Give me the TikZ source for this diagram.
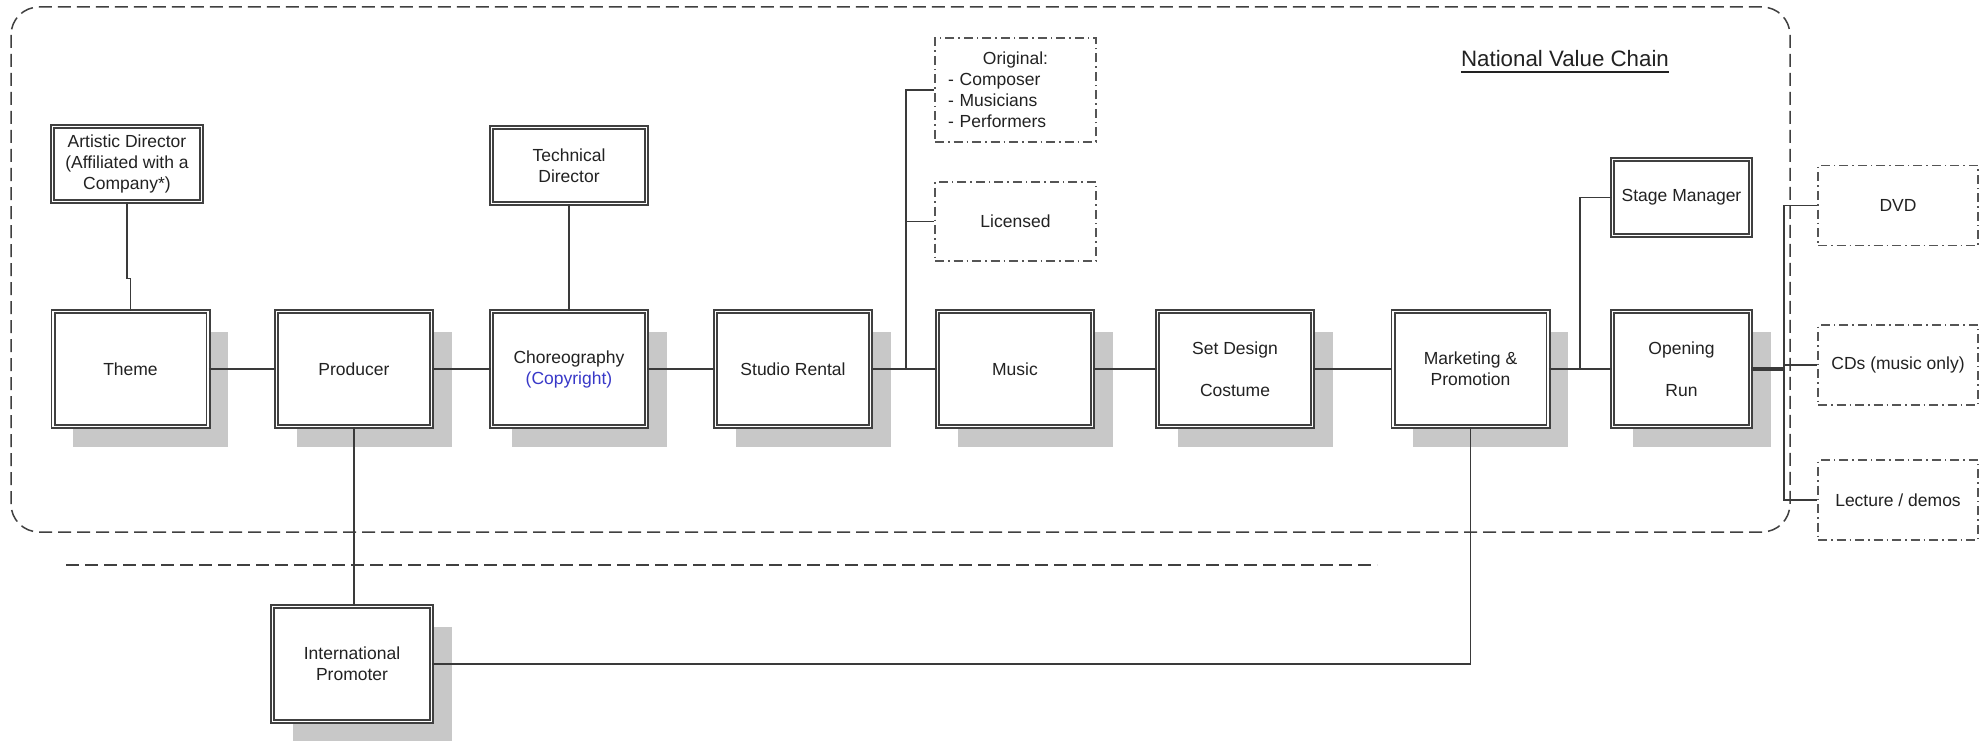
\documentclass[tikz,border=0pt]{standalone}
\usepackage{fontspec}
\setmainfont{Liberation Sans}
\usetikzlibrary{shadows}

\definecolor{linec}{HTML}{3A3A3A}
\definecolor{boxc}{HTML}{404040}
\definecolor{ddc}{HTML}{555555}
\definecolor{shadowc}{HTML}{C8C8C8}
\definecolor{txtc}{HTML}{222222}
\definecolor{copyc}{HTML}{3838C8}
\newcommand\boxfont{\fontsize{17.5pt}{21pt}\selectfont}

\begin{document}
\begin{tikzpicture}[x=1pt,y=-1pt,
  every node/.style={text=txtc, font=\boxfont, align=center, inner sep=0pt},
  dblbox/.style={draw=boxc, double=white, double distance=1.8pt, line width=1.6pt, fill=white},
  stagebox/.style={dblbox, minimum width=155pt, minimum height=115pt},
  shade/.style={drop shadow={shadow xshift=20pt, shadow yshift=-20pt, fill=shadowc, opacity=1}},
  ddbox/.style={draw=ddc, line width=1.5pt, dash pattern=on 9pt off 4pt on 1.5pt off 4pt,
                minimum width=161pt},
  conn/.style={draw=linec, line width=1.6pt},
  feed/.style={draw=linec, line width=2.4pt},
  heavy/.style={draw=linec, line width=3.2pt},
  border/.style={draw=boxc, line width=1.5pt, dash pattern=on 13pt off 6pt},
]
\fill[white] (0,0) rectangle (1984,741);
\useasboundingbox (0,0) rectangle (1984,741);

% national value chain frame and the national/international divider
\draw[border, rounded corners=28pt] (11,7) rectangle (1790,532);
\draw[border] (66,565) -- (1377,565);

\node[font=\fontsize{22.3pt}{26pt}\selectfont, anchor=base] (title) at (1565,67) {National Value Chain};
\draw[draw=txtc, line width=1.7pt] ([yshift=-5pt]title.base west) -- ([yshift=-5pt]title.base east);

% production stages
\node[stagebox, shade] (theme) at (130.5,369) {Theme};
\node[stagebox, shade] (producer) at (354,369) {Producer};
\node[stagebox, shade] (choreo) at (569,369) {Choreography\\\textcolor{copyc}{(Copyright)}};
\node[stagebox, shade] (studio) at (793,369) {Studio Rental};
\node[stagebox, shade] (music) at (1015,369) {Music};
\node[stagebox, shade] (setdesign) at (1235,369) {Set Design\\[21pt]Costume};
\node[stagebox, shade] (marketing) at (1470.5,369) {Marketing \&\\Promotion};
\node[stagebox, shade, minimum width=138pt] (opening) at (1681.5,369) {Opening\\[21pt]Run};
\node[stagebox, shade, minimum width=159pt] (intl) at (352,664) {International\\Promoter};

% people attached to stages
\node[dblbox, minimum width=149pt, minimum height=75pt] (artdir) at (127,164)
  {Artistic Director\\(Affiliated with a\\Company*)};
\node[dblbox, minimum width=155pt, minimum height=76pt] (techdir) at (569,165.5) {Technical\\Director};
\node[dblbox, minimum width=138pt, minimum height=76pt] (stagemgr) at (1681.5,197.5) {Stage Manager};

% music sources
\node[ddbox, minimum height=104pt, text width=135pt, align=left] (original) at (1015.5,90)
  {\makebox[\linewidth]{Original:}\\- Composer\\- Musicians\\- Performers};
\node[ddbox, minimum height=79pt] (licensed) at (1015.5,221.5) {Licensed};

% by-products
\node[ddbox, minimum width=160pt, minimum height=80pt] (dvd) at (1898,205.5) {DVD};
\node[ddbox, minimum width=160pt, minimum height=80pt] (cds) at (1898,365) {CDs (music only)};
\node[ddbox, minimum width=160pt, minimum height=80pt] (lecture) at (1898,500) {Lecture / demos};

% junctions
\coordinate (mj) at (906,369);
\coordinate (sj) at (1580,369);
\coordinate (oj) at (1784,369);

% chain
\draw[conn] (theme.east) -- (producer.west);
\draw[conn] (producer.east) -- (choreo.west);
\draw[conn] (choreo.east) -- (studio.west);
\draw[conn] (studio.east) -- (mj);
\draw[feed] (mj) -- (music.west);
\draw[conn] (mj) |- (original.west);
\draw[conn] (mj |- licensed.west) -- (licensed.west);
\draw[conn] (music.east) -- (setdesign.west);
\draw[conn] (setdesign.east) -- (marketing.west);
\draw[conn] (marketing.east) -- (sj);
\draw[feed] (sj) -- (opening.west);
\draw[conn] (sj) |- (stagemgr.west);
\draw[heavy] (opening.east) -- (oj);
\draw[conn] (dvd.west) -- (oj |- dvd.west) -- (oj |- lecture.west) -- (lecture.west);
\draw[conn] (oj |- cds.west) -- (cds.west);

% side links
\draw[conn] (artdir.south) -- ++(0,76) -| (theme.north);
\draw[conn] (techdir.south) -- (choreo.north);
\draw[conn] (producer.south) -- (producer.south |- intl.north);
\draw[conn] (intl.east) -| (marketing.south);
\end{tikzpicture}
\end{document}
